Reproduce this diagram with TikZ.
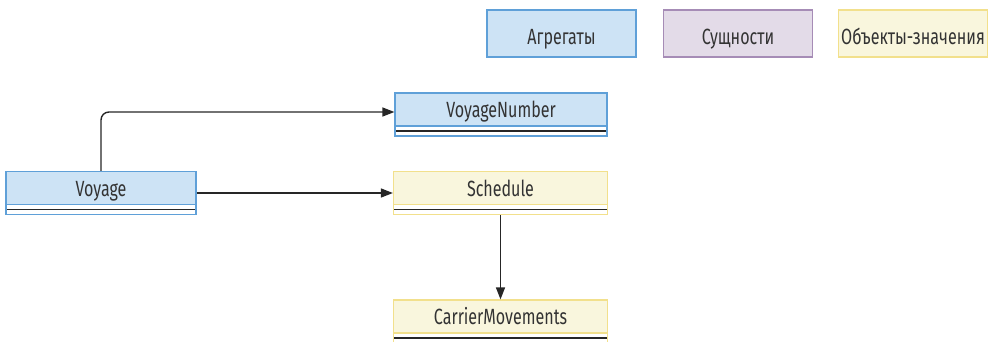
\documentclass[tikz,border=0pt]{standalone}
\usepackage{fontspec}
\setmainfont{Fira Sans}[FakeStretch=0.73]
\usetikzlibrary{arrows.meta}
\definecolor{aggfill}{RGB}{205,227,245}
\definecolor{aggline}{RGB}{95,160,216}
\definecolor{entfill}{RGB}{227,219,232}
\definecolor{entline}{RGB}{166,140,182}
\definecolor{valfill}{RGB}{249,246,221}
\definecolor{valline}{RGB}{242,224,140}
\definecolor{ink}{RGB}{51,51,51}
\tikzset{
  x=1pt, y=-1pt,
  txt/.style={font=\fontsize{22}{24}\selectfont, text=ink, text height=21pt, text depth=0pt},
  legend/.style={draw=#1line, fill=#1fill, line width=1.2pt, minimum height=47pt,
    minimum width=149pt, inner sep=0pt, txt},
  cls/.style={draw=#1line, fill=#1fill, line width=1.2pt, minimum height=43pt, inner sep=0pt,
    path picture={
      \fill[white] ([yshift=10pt]path picture bounding box.south west)
        rectangle (path picture bounding box.south east);
      \draw[#1line, line width=1.2pt] ([yshift=10pt]path picture bounding box.south west)
        -- ([yshift=10pt]path picture bounding box.south east);
      \draw[black!85, line width=1.6pt] ([yshift=5pt]path picture bounding box.south west)
        -- ([yshift=5pt]path picture bounding box.south east);
    }},
  title/.style={txt, inner sep=0pt},
  link/.style={line width=1.4pt, draw=black!85, -{Triangle[length=12pt,width=9pt]}},
}
\begin{document}
\begin{tikzpicture}
\useasboundingbox (0,0) rectangle (989,341);

% legend
\node[legend=agg] (lagg) at (561.5,33.5) {Агрегаты};
\node[legend=ent] (lent) at (738,33.5) {Сущности};
\node[legend=val] (lval) at (913,33.5) {Объекты-значения};

% classes
\node[cls=agg, minimum width=190pt] (voy) at (101,193) {};
\node[title] at ([yshift=-15pt]voy.north) {Voyage};

\node[cls=agg, minimum width=212pt] (vnum) at (501,114.5) {};
\node[title] at ([yshift=-15pt]vnum.north) {VoyageNumber};

\node[cls=val, minimum width=214pt] (sched) at (500.5,193) {};
\node[title] at ([yshift=-15pt]sched.north) {Schedule};

\node[cls=val, minimum width=214pt] (carr) at (500.5,321.5) {};
\node[title] at ([yshift=-15pt]carr.north) {CarrierMovements};

% associations
\draw[link, rounded corners=8pt] (voy.north) |- ([yshift=2.5pt]vnum.west);
\draw[link] (voy.east) -- (sched.west);
\draw[link] (sched.south) -- (carr.north);
\end{tikzpicture}
\end{document}
